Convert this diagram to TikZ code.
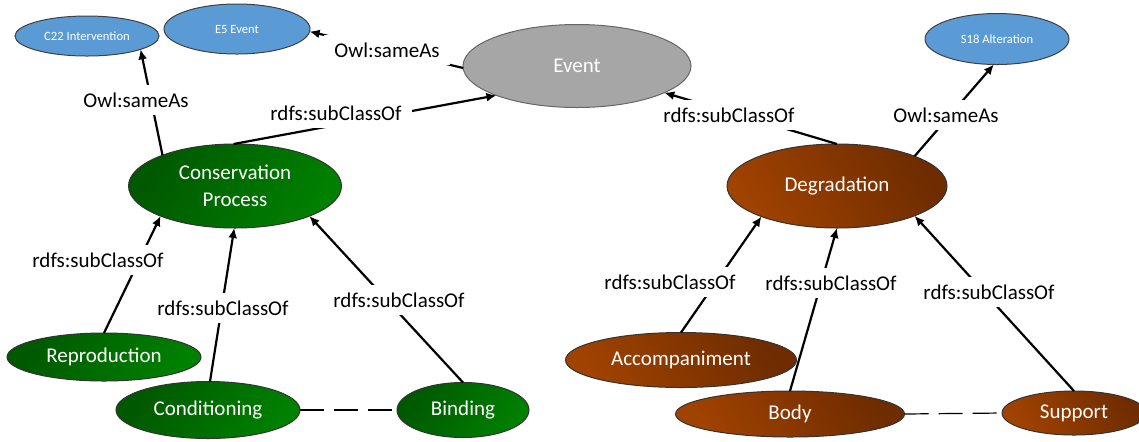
\documentclass[tikz,border=0pt]{standalone}
\usepackage{fontspec}
\setmainfont{Carlito}
\usetikzlibrary{shapes.geometric,arrows.meta}
\definecolor{cidocblue}{HTML}{5B9BD5}
\definecolor{eventgray}{HTML}{A6A6A6}
\definecolor{greenD}{HTML}{005800}
\definecolor{greenL}{HTML}{008000}
\definecolor{brownL}{HTML}{A04200}
\definecolor{brownD}{HTML}{6E2C00}
\begin{document}
\begin{tikzpicture}[x=0.5pt,y=-0.5pt,
  base/.style={ellipse,inner sep=0pt,outer sep=0pt,line width=0.5pt,align=center},
  cidocnode/.style={base,fill=cidocblue,draw=black!75,text=white,font=\fontsize{6.3}{7}\selectfont},
  eventnode/.style={base,fill=eventgray,draw=black!60,text=white,font=\fontsize{10.5}{13.5}\selectfont},
  consnode/.style={base,draw=black!80,left color=greenD,right color=greenL,shading angle=60,text=white,font=\fontsize{10.5}{13.5}\selectfont},
  degnode/.style={base,draw=black!80,left color=brownL,right color=brownD,shading angle=120,text=white,font=\fontsize{10.5}{13.5}\selectfont},
  rel/.style={line width=1.1pt,-{Latex[length=5pt,width=4.5pt]}},
  lbl/.style={fill=white,inner xsep=5pt,inner ysep=4pt,font=\fontsize{10.5}{12}\selectfont},
  sib/.style={line width=0.6pt,dash pattern=on 12pt off 5pt}
]
\useasboundingbox (0,0) rectangle (1139,441);
% nodes
\node[cidocnode,minimum width=72pt,minimum height=20pt] (c22) at (87,36) {C22 Intervention};
\node[cidocnode,minimum width=73pt,minimum height=25pt] (e5) at (237,29) {E5 Event};
\node[eventnode,minimum width=114pt,minimum height=41.5pt] (event) at (577,66) {Event};
\node[cidocnode,minimum width=72pt,minimum height=25.5pt] (s18) at (997,39) {S18 Alteration};
\node[consnode,minimum width=106.5pt,minimum height=42pt] (cp) at (235,186) {Conservation\\Process};
\node[consnode,minimum width=97pt,minimum height=24pt] (repro) at (104,357) {Reproduction};
\node[consnode,minimum width=92pt,minimum height=28.5pt] (cond) at (208,410) {Conditioning};
\node[consnode,minimum width=66pt,minimum height=27.5pt] (bind) at (463,410) {Binding};
\node[degnode,minimum width=110pt,minimum height=42pt] (deg) at (837,186) {Degradation};
\node[degnode,minimum width=115.5pt,minimum height=27.5pt] (acc) at (681,360) {Accompaniment};
\node[degnode,minimum width=114.5pt,minimum height=23pt] (body) at (790,414) {Body};
\node[degnode,minimum width=72pt,minimum height=22pt] (supp) at (1074,413) {Support};
% connectors
\draw[rel] (cp.157) -- (c22.-14);
\draw[rel] (event.181) -- (e5.-2);
\draw[rel] (cp.92) -- (event.-160);
\draw[rel] (deg.90) -- (event.-17);
\draw[rel] (deg.21) -- (s18.-97);
\draw[rel] (repro.90) -- (cp.-158);
\draw[rel] (cond.86) -- (cp.-91);
\draw[rel] (bind.90) -- (cp.-22);
\draw[rel] (acc.90) -- (deg.-158.6);
\draw[rel] (body.90) -- (deg.-90);
\draw[rel] (supp.90) -- (deg.-21);
\draw[sib] (cond.east) -- (bind.west);
\draw[sib] (body.east) -- (supp.west);
% labels
\node[lbl] (l1) at (136,100) {Owl:sameAs};
\node[lbl] (l2) at (387,50) {Owl:sameAs};
\node[lbl] (l3) at (336,113) {rdfs:subClassOf};
\node[lbl] (l4) at (729,115) {rdfs:subClassOf};
\node[lbl] (l5) at (946,115) {Owl:sameAs};
\node[lbl] (l6) at (98,260) {rdfs:subClassOf};
\node[lbl] (l7) at (223,308) {rdfs:subClassOf};
\node[lbl] (l8) at (399,300) {rdfs:subClassOf};
\node[lbl] (l9) at (670,282) {rdfs:subClassOf};
\node[lbl] (l10) at (831,283) {rdfs:subClassOf};
\node[lbl] (l11) at (989,292) {rdfs:subClassOf};
\end{tikzpicture}
\end{document}
